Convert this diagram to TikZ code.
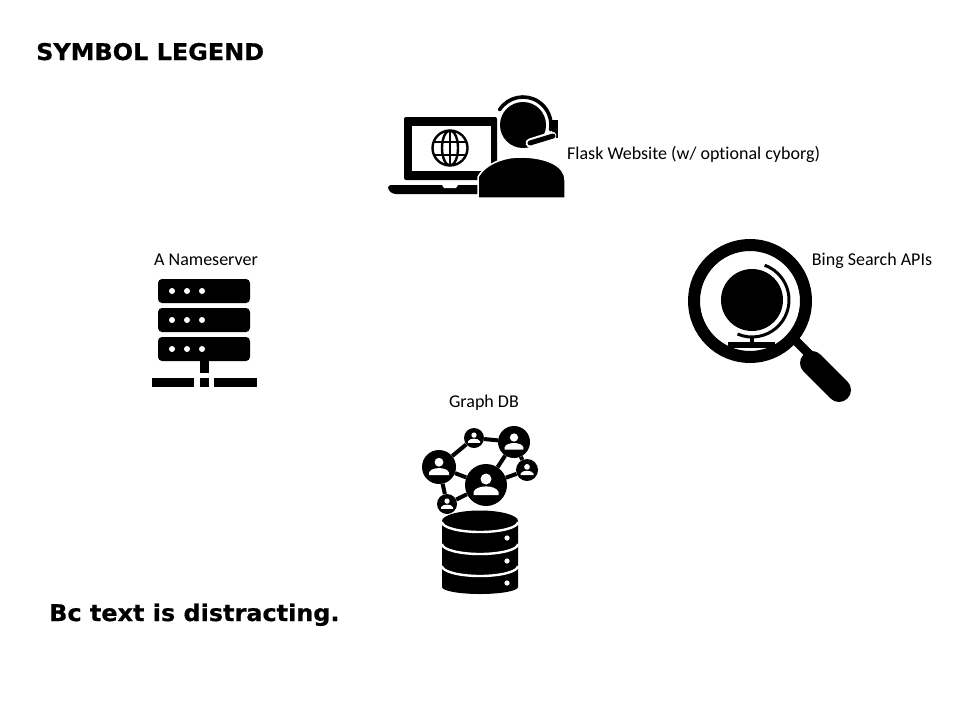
\documentclass[tikz,border=0pt]{standalone}
\usepackage{fontspec}
\setmainfont[Ligatures=NoCommon]{Carlito}
\newfontfamily\headfont[BoldFeatures={FakeBold=0.6,FakeStretch=1.04}]{DejaVu Sans}
\tikzset{
	l/.style={font=\fontsize{18}{20}\selectfont, inner sep=0, anchor=base},
	head/.style={font=\headfont\bfseries\fontsize{23}{27}\selectfont, inner sep=0, anchor=base west},
	usr/.style={circle, fill, inner sep=0, minimum size=#1},
	glyph/.style={white, shift={(#1)}},
	link/.style={line width=4pt},
	band/.style={white, line width=2.4pt},
	hole/.style={white}
}
\begin{document}
\begin{tikzpicture}[x=1pt, y=-1pt]
	\useasboundingbox (0,0) rectangle (960,720);

	\node[head] (title) at (36,60) {SYMBOL LEGEND};
	\node[head] (note) at (49,621) {Bc text is distracting.};

	% website icon
	\fill[rounded corners=2pt] (404,117) rectangle (497,180);
	\fill[hole] (412,126) rectangle (491,171);
	\fill[rounded corners=3pt] (388,185) -- (480,185) -- (480,194) -- (393,194) -- (388,190) -- cycle;
	\fill[hole] (442,185) -- (458,185) -- (456,188) -- (444,188) -- cycle;
	\coordinate (globe) at (450,148);
	\draw[line width=2.4pt] (globe) circle (17.5) (globe) ellipse (8 and 17.5);
	\draw[line width=2.4pt] (433,142) -- (467,142) (433,155) -- (467,155) (450,131) -- (450,165);
	\fill[draw=white, line width=1.5pt] (478,198) -- (478,177) .. controls (486,163) and (505,157) .. (520,157) .. controls (545,157) and (565,165) .. (565,180) -- (565,198) -- cycle;
	\coordinate (cyborg) at (523,125);
	\fill (cyborg) circle (23);
	\draw[line width=3.6pt, line cap=round] (cyborg) ++(213:28) arc (213:370:28);
	\fill (552,120) rectangle (558,138);
	\draw[white, line width=9pt, line cap=round] (530,143) -- (552,136);
	\draw[line width=5pt, line cap=round] (530,143) -- (553,136);

	\node[l, anchor=base west] (flask) at (567,159) {Flask Website (w/ optional cyborg)};

	% nameserver icon
	\foreach \y in {279,308,337} {
		\fill[rounded corners=4pt] (158,\y) rectangle (250,\y+24);
		\foreach \x in {172,187,202}
			\fill[hole] (\x,\y+12) circle (3);
	}
	\fill (200,361) rectangle (209,373);
	\fill (152,378) rectangle (194,387);
	\fill (200,378) rectangle (209,387);
	\fill (214,378) rectangle (257,387);

	\node[l] (ns) at (206,265) {A Nameserver};

	% search icon
	\draw[line width=12pt] (750,301) circle (56);
	\fill (752,300) circle (31);
	\draw[line width=3pt] (752,300) ++(-70:37) arc (-70:113:37);
	\fill (750,338) rectangle (754,343);
	\fill (728,342) rectangle (775,348);
	\draw[line width=9pt] (795,340) -- (812,357);
	\draw[line width=24pt, line cap=round] (812,363) -- (839,390);

	\node[l] (bing) at (872,265) {Bing Search APIs};

	% graph db icon
	\node[usr=34] (u1) at (439,467) {};
	\node[usr=42] (u2) at (486,485) {};
	\node[usr=32] (u3) at (514,442) {};
	\node[usr=20] (u4) at (474,438) {};
	\node[usr=22] (u5) at (527,470) {};
	\node[usr=20] (u6) at (447,504) {};
	\foreach \n/\s in {u1/0.8, u2/1, u3/0.75, u4/0.48, u5/0.52, u6/0.48}
		\fill[glyph=\n, scale=\s] (0,-6) circle (5.5)
			(-12.5,10) -- (-12.5,7) .. controls (-10,-0.5) and (10,-0.5) .. (12.5,7) -- (12.5,10) -- cycle;
	\draw[link] (u1) -- (u4);
	\draw[link] (u4) -- (u3);
	\draw[link] (u3) -- (u2);
	\draw[link] (u3) -- (u5);
	\draw[link] (u5) -- (u2);
	\draw[link] (u1) -- (u2);
	\draw[link] (u1) -- (u6);
	\draw[link] (u6) -- (u2);

	\fill (442,521) arc (180:360:38 and 10.5) -- (518,587) arc (0:180:38 and 7) -- cycle;
	\foreach \y in {522,544,566}
		\draw[band] (442,\y) arc (180:0:38 and 10);
	\foreach \y in {538,561,583}
		\fill[hole] (507,\y) circle (2.6);

	\node[l] (db) at (484,407) {Graph DB};
\end{tikzpicture}
\end{document}
